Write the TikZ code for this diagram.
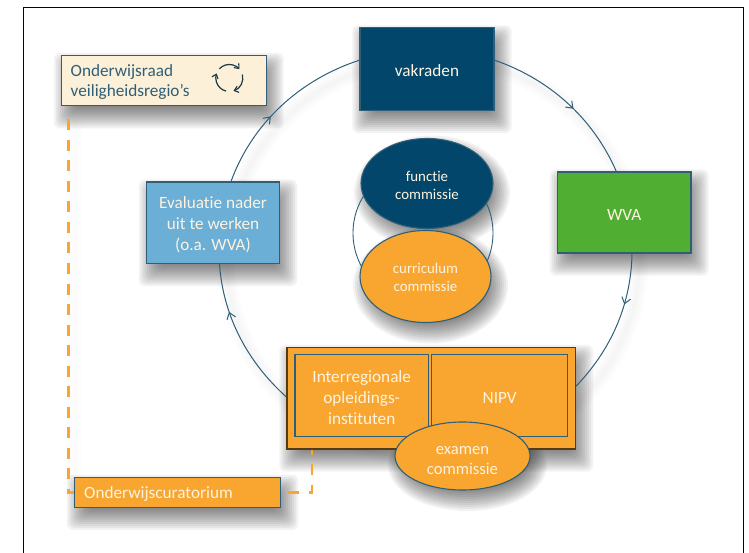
\documentclass[tikz,border=0pt]{standalone}
\usepackage{fontspec}
\setmainfont{Carlito}[Ligatures=CommonOff]
\usetikzlibrary{shapes.geometric,arrows.meta,decorations.markings}
\pgfdeclarelayer{paper}
\pgfdeclarelayer{shade}
\pgfsetlayers{paper,shade,main}
\definecolor{navy}{HTML}{02476B}
\definecolor{edge}{HTML}{2F5F78}
\definecolor{orangeF}{HTML}{F8A62F}
\definecolor{greenF}{HTML}{50AE32}
\definecolor{blueF}{HTML}{6BAED6}
\definecolor{creamF}{HTML}{FCF0D9}
\definecolor{lighttext}{HTML}{FDF3E0}
\newcommand{\topgap}[1]{\rule{0pt}{#1pt}}
\tikzset{
  boxbase/.style={draw=edge,line width=1.1pt,inner sep=0pt,text=lighttext,align=center,font=\fontsize{17.2}{21}\selectfont,
    execute at begin node={\rule{0pt}{20pt}},execute at end node={\rule[-4.6pt]{0pt}{4.6pt}}},
  box/.style={boxbase,rectangle},
  oval/.style={boxbase,ellipse},
  flow/.style={draw=edge,line width=1pt,looseness=0.9},
  midarrow/.style={postaction={decorate},decoration={markings,mark=at position #1 with {\arrow{Straight Barb[length=6pt,width=9pt,line width=1pt]}}}},
  dashline/.style={draw=orangeF,line width=2.4pt,dash pattern=on 11pt off 9.5pt},
}
% soft shadow behind a rectangular node
\newcommand{\boxshade}[1]{%
  \begin{pgfonlayer}{shade}
  \foreach \g in {-12,-10,...,12}
    \fill[black,opacity=0.05,rounded corners=6pt]
      ([xshift={(5-\g)*1pt},yshift={(-10-\g)*1pt}]#1.south west) rectangle ([xshift={(5+\g)*1pt},yshift={(-10+\g)*1pt}]#1.north east);
  \end{pgfonlayer}}
% soft shadow behind an elliptical node: centre, half width, half height
\newcommand{\ovalshade}[3]{%
  \begin{pgfonlayer}{shade}
  \foreach \g in {-12,-10,...,12}
    \fill[black,opacity=0.05] ([xshift=5pt,yshift=-9pt]#1.center) ellipse [x radius={(#2+\g)*1pt},y radius={(#3+\g)*1pt}];
  \end{pgfonlayer}}
\begin{document}
\begin{tikzpicture}[x=1pt,y=-1pt]
\useasboundingbox (0,0) rectangle (749,553);
\begin{pgfonlayer}{paper}
\fill[white] (0,0) rectangle (749,553);
\end{pgfonlayer}
\draw[black!80!blue,line width=1pt] (23.5,553) -- (23.5,7.5) -- (743,7.5) -- (743,553);

% soft shadow of the ring and of the dashed line
\begin{pgfonlayer}{shade}
\foreach \w in {3,7,11,15,19}
  \draw[black,opacity=0.008,line width=\w pt] (433,259) ellipse [x radius=206.5,y radius=201];
\foreach \w in {3,8,13,18}
  \draw[black,opacity=0.005,line width=\w pt] (74,120) -- (74,480);
\end{pgfonlayer}

\node[box,fill=navy,minimum width=134pt,minimum height=82.5pt] (vak) at (427,69.2) {vakraden};
\node[box,fill=greenF,minimum width=133.5pt,minimum height=81pt] (wva) at (624.2,212.5) {WVA};
\node[box,fill=blueF,minimum width=133pt,minimum height=81.5pt] (eval) at (213,222.8) {\topgap{17.5}Evaluatie nader\\uit te werken\\(o.a. WVA)};
\node[box,fill=orangeF,draw=black!65!orangeF,minimum width=288.5pt,minimum height=101.5pt] (big) at (431.2,398.2) {};
\node[boxbase,fill=orangeF,minimum width=133.5pt,minimum height=82.5pt] (iro) at (361.7,395.3) {\topgap{21.5}Interregionale\\opleidings-\\instituten};
\node[boxbase,fill=orangeF,minimum width=136pt,minimum height=82.5pt] (nipv) at (499.7,395.3) {NIPV};
\node[oval,fill=orangeF,minimum width=135pt,minimum height=68pt,font=\fontsize{16.6}{20}\selectfont] (exam) at (462.5,456) {\topgap{21.5}examen\\commissie};

\node[draw=edge,line width=0.9pt,circle,minimum size=140pt,inner sep=0pt] (ring) at (423,233) {};
\node[oval,fill=navy,minimum width=132pt,minimum height=90pt,font=\fontsize{14.9}{18}\selectfont] (fun) at (427,183.5) {\topgap{18}functie\\commissie};
\node[oval,fill=orangeF,minimum width=131pt,minimum height=92pt,font=\fontsize{14.9}{18}\selectfont] (cur) at (425.5,276.5) {\topgap{17}curriculum\\commissie};

\node[draw=edge,line width=1.1pt,inner sep=0pt,fill=creamF,minimum width=204.5pt,minimum height=50.5pt,anchor=west] (raad) at (61,80.7) {};
\node[text=edge,align=left,anchor=west,inner sep=0pt,font=\fontsize{17.2}{20.5}\selectfont] (raadtxt) at (70.5,82) {Onderwijsraad\\veiligheidsregio’s};
\node[draw=edge,line width=1.1pt,inner sep=0pt,fill=orangeF,minimum width=206pt,minimum height=30pt] (curat) at (177.5,492.3) {};
\node[text=lighttext,anchor=west,inner sep=0pt,font=\fontsize{17.2}{21}\selectfont] (curattxt) at (84,494) {Onderwijscuratorium};

\boxshade{vak}\boxshade{wva}\boxshade{eval}\boxshade{big}\boxshade{raad}\boxshade{curat}
\ovalshade{fun}{66}{45}\ovalshade{cur}{65.5}{46}\ovalshade{exam}{67.5}{34}

% ring connectors
\draw[flow,midarrow=0.55] ([yshift=9pt]vak.east) to[out=-19,in=113.5] ([xshift=-7.9pt]wva.north);
\draw[flow,midarrow=0.35] ([xshift=7.8pt]wva.south) to[out=-91,in=46] ([yshift=12pt]big.east);
\draw[flow,midarrow=0.68] ([yshift=1.2pt]big.west) to[out=138,in=274] ([xshift=6.5pt]eval.south);
\draw[flow,midarrow=0.42] ([xshift=18pt]eval.north) to[out=70,in=198] ([yshift=9pt]vak.west);

% dashed connectors
\draw[dashline] ([xshift=7.5pt,yshift=-13pt]raad.south west) |- (curat.west);
\draw[dashline,dash phase=6pt] ([xshift=25.7pt]big.south west) |- (curat.east);

% cycle icon in the Onderwijsraad box
\begin{scope}[shift={(229.3,78)},y=1pt,draw=edge!60!black,line width=1.2pt,
  >={Straight Barb[length=4pt,width=6.5pt,line width=1.1pt]}]
\draw[->] (137:13.5) arc[start angle=137,end angle=41,radius=13.5];
\draw[->] (15:13.5) arc[start angle=15,end angle=-72,radius=13.5];
\draw[->] (-104:13.5) arc[start angle=-104,end angle=-200,radius=13.5];
\end{scope}
\end{tikzpicture}
\end{document}
